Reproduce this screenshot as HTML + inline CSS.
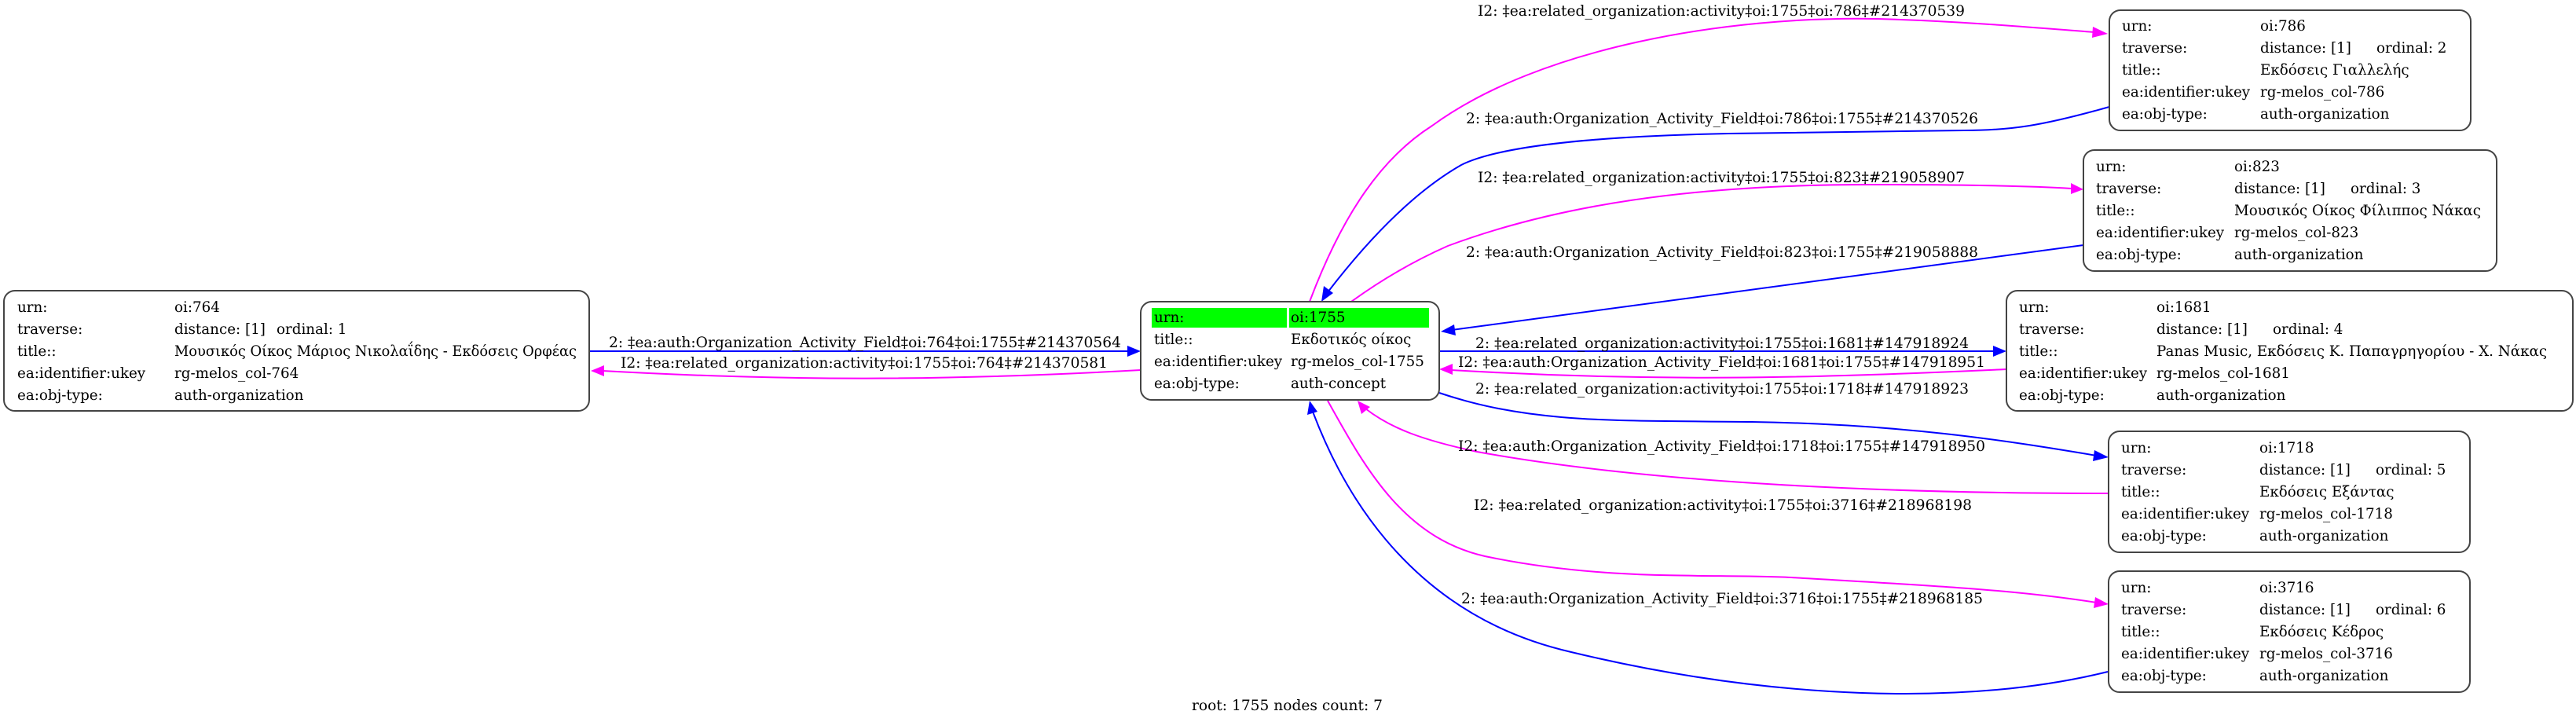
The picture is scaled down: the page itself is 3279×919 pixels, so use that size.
<!DOCTYPE html>
<html><head><meta charset="utf-8"><style>
html,body{margin:0;padding:0;background:#fff;}
svg{display:block;}
text{font-family:"DejaVu Serif","Liberation Serif",serif;font-size:18.3px;fill:#000;}
</style></head><body>
<svg width="3279" height="919" viewBox="0 0 3279 919" xmlns="http://www.w3.org/2000/svg">
<rect width="3279" height="919" fill="#fff"/>

<g fill="none" stroke-width="2">
<path d="M1667,384 C1710,270 1760,200 1823,160 C1960,60 2200,20 2390,24 C2500,27 2600,36 2666,41" stroke="#ff00ff"/>
<path d="M2685,136 C2600,160 2560,166 2500,166 L2200,170 C2000,174 1900,190 1860,210 C1790,250 1730,320 1690,372" stroke="#0000ff"/>
<path d="M1720,384 C1760,355 1800,332 1843,313 C1980,262 2150,235 2380,235 C2500,235 2590,237 2637,240" stroke="#ff00ff"/>
<path d="M2652,312 L1848,420" stroke="#0000ff"/>
<path d="M751,447 L1437,447" stroke="#0000ff"/>
<path d="M1452,471 C1200,485 1000,485 767,472" stroke="#ff00ff"/>
<path d="M1832,447 L2539,447" stroke="#0000ff"/>
<path d="M2554,470 C2300,482 2100,486 1847,471" stroke="#ff00ff"/>
<path d="M1832,500 C1950,540 2060,535 2230,537 C2420,540 2550,560 2669,580" stroke="#0000ff"/>
<path d="M2683,628 C2400,628 2100,615 1880,575 C1810,560 1770,545 1738,520" stroke="#ff00ff"/>
<path d="M1690,510 C1740,600 1790,690 1900,710 C2050,740 2180,730 2280,735 C2450,745 2560,750 2669,767" stroke="#ff00ff"/>
<path d="M2683,855 C2500,900 2250,890 2000,830 C1780,780 1700,600 1671,524" stroke="#0000ff"/>
</g>
<g>
<polygon points="2683,43 2664,34 2663,48" fill="#ff00ff"/>
<polygon points="1682,384 1685,364 1697,373" fill="#0000ff"/>
<polygon points="2652,241 2636,233 2636,247" fill="#ff00ff"/>
<polygon points="1834,422 1851,413 1853,427" fill="#0000ff"/>
<polygon points="1452,447 1435,440 1435,454" fill="#0000ff"/>
<polygon points="752,472 769,465 769,479" fill="#ff00ff"/>
<polygon points="2554,447 2537,440 2537,454" fill="#0000ff"/>
<polygon points="1832,470 1849,463 1849,477" fill="#ff00ff"/>
<polygon points="2684,582 2666,573 2664,587" fill="#0000ff"/>
<polygon points="1728,510 1733,527 1744,518" fill="#ff00ff"/>
<polygon points="2684,769 2667,760 2665,774" fill="#ff00ff"/>
<polygon points="1667,510 1664,528 1677,524" fill="#0000ff"/>
</g>

<text x="1881" y="20" textLength="620" lengthAdjust="spacingAndGlyphs">I2: ‡ea:related_organization:activity‡oi:1755‡oi:786‡#214370539</text>
<text x="1866" y="157" textLength="652" lengthAdjust="spacingAndGlyphs">2: ‡ea:auth:Organization_Activity_Field‡oi:786‡oi:1755‡#214370526</text>
<text x="1881" y="232" textLength="620" lengthAdjust="spacingAndGlyphs">I2: ‡ea:related_organization:activity‡oi:1755‡oi:823‡#219058907</text>
<text x="1866" y="327" textLength="652" lengthAdjust="spacingAndGlyphs">2: ‡ea:auth:Organization_Activity_Field‡oi:823‡oi:1755‡#219058888</text>
<text x="775" y="442" textLength="652" lengthAdjust="spacingAndGlyphs">2: ‡ea:auth:Organization_Activity_Field‡oi:764‡oi:1755‡#214370564</text>
<text x="790" y="468" textLength="620" lengthAdjust="spacingAndGlyphs">I2: ‡ea:related_organization:activity‡oi:1755‡oi:764‡#214370581</text>
<text x="1878" y="443" textLength="628" lengthAdjust="spacingAndGlyphs">2: ‡ea:related_organization:activity‡oi:1755‡oi:1681‡#147918924</text>
<text x="1856" y="467" textLength="671" lengthAdjust="spacingAndGlyphs">I2: ‡ea:auth:Organization_Activity_Field‡oi:1681‡oi:1755‡#147918951</text>
<text x="1878" y="501" textLength="628" lengthAdjust="spacingAndGlyphs">2: ‡ea:related_organization:activity‡oi:1755‡oi:1718‡#147918923</text>
<text x="1856" y="574" textLength="671" lengthAdjust="spacingAndGlyphs">I2: ‡ea:auth:Organization_Activity_Field‡oi:1718‡oi:1755‡#147918950</text>
<text x="1876" y="649" textLength="634" lengthAdjust="spacingAndGlyphs">I2: ‡ea:related_organization:activity‡oi:1755‡oi:3716‡#218968198</text>
<text x="1860" y="768" textLength="664" lengthAdjust="spacingAndGlyphs">2: ‡ea:auth:Organization_Activity_Field‡oi:3716‡oi:1755‡#218968185</text>

<rect x="1452" y="384" width="380" height="125" rx="14" fill="#fff" stroke="#444" stroke-width="2"/>
<rect x="1466" y="392" width="172" height="25" fill="#00ff00"/>
<rect x="1641" y="392" width="178" height="25" fill="#00ff00"/>
<text x="1469" y="410">urn:</text><text x="1643" y="410">oi:1755</text>
<text x="1469" y="438">title::</text><text x="1643" y="438">Εκδοτικός οίκος</text>
<text x="1469" y="466">ea:identifier:ukey</text><text x="1643" y="466">rg-melos_col-1755</text>
<text x="1469" y="494">ea:obj-type:</text><text x="1643" y="494">auth-concept</text>

<rect x="5" y="370" width="745" height="153" rx="14" fill="#fff" stroke="#444" stroke-width="2"/>
<text x="22" y="397">urn:</text><text x="222" y="397">oi:764</text>
<text x="22" y="425">traverse:</text><text x="222" y="425">distance: [1]</text><text x="352" y="425">ordinal: 1</text>
<text x="22" y="453">title::</text><text x="222" y="453" textLength="512" lengthAdjust="spacingAndGlyphs">Μουσικός Οίκος Μάριος Νικολαΐδης -  Εκδόσεις Ορφέας</text>
<text x="22" y="481">ea:identifier:ukey</text><text x="222" y="481">rg-melos_col-764</text>
<text x="22" y="509">ea:obj-type:</text><text x="222" y="509">auth-organization</text>

<rect x="2685" y="13" width="460" height="153" rx="14" fill="#fff" stroke="#444" stroke-width="2"/>
<text x="2701" y="39">urn:</text><text x="2877" y="39">oi:786</text>
<text x="2701" y="67">traverse:</text><text x="2877" y="67">distance: [1]</text><text x="3025" y="67">ordinal: 2</text>
<text x="2701" y="95">title::</text><text x="2877" y="95">Εκδόσεις Γιαλλελής</text>
<text x="2701" y="123">ea:identifier:ukey</text><text x="2877" y="123">rg-melos_col-786</text>
<text x="2701" y="151">ea:obj-type:</text><text x="2877" y="151">auth-organization</text>

<rect x="2652" y="191" width="526" height="154" rx="14" fill="#fff" stroke="#444" stroke-width="2"/>
<text x="2668" y="218">urn:</text><text x="2844" y="218">oi:823</text>
<text x="2668" y="246">traverse:</text><text x="2844" y="246">distance: [1]</text><text x="2992" y="246">ordinal: 3</text>
<text x="2668" y="274">title::</text><text x="2844" y="274">Μουσικός Οίκος Φίλιππος Νάκας</text>
<text x="2668" y="302">ea:identifier:ukey</text><text x="2844" y="302">rg-melos_col-823</text>
<text x="2668" y="330">ea:obj-type:</text><text x="2844" y="330">auth-organization</text>

<rect x="2554" y="370" width="721" height="153" rx="14" fill="#fff" stroke="#444" stroke-width="2"/>
<text x="2570" y="397">urn:</text><text x="2745" y="397">oi:1681</text>
<text x="2570" y="425">traverse:</text><text x="2745" y="425">distance: [1]</text><text x="2893" y="425">ordinal: 4</text>
<text x="2570" y="453">title::</text><text x="2745" y="453">Panas Music,  Εκδόσεις Κ. Παπαγρηγορίου - Χ. Νάκας</text>
<text x="2570" y="481">ea:identifier:ukey</text><text x="2745" y="481">rg-melos_col-1681</text>
<text x="2570" y="509">ea:obj-type:</text><text x="2745" y="509">auth-organization</text>

<rect x="2684" y="549" width="460" height="154" rx="14" fill="#fff" stroke="#444" stroke-width="2"/>
<text x="2700" y="576">urn:</text><text x="2876" y="576">oi:1718</text>
<text x="2700" y="604">traverse:</text><text x="2876" y="604">distance: [1]</text><text x="3024" y="604">ordinal: 5</text>
<text x="2700" y="632">title::</text><text x="2876" y="632">Εκδόσεις Εξάντας</text>
<text x="2700" y="660">ea:identifier:ukey</text><text x="2876" y="660">rg-melos_col-1718</text>
<text x="2700" y="688">ea:obj-type:</text><text x="2876" y="688">auth-organization</text>

<rect x="2684" y="727" width="460" height="154" rx="14" fill="#fff" stroke="#444" stroke-width="2"/>
<text x="2700" y="754">urn:</text><text x="2876" y="754">oi:3716</text>
<text x="2700" y="782">traverse:</text><text x="2876" y="782">distance: [1]</text><text x="3024" y="782">ordinal: 6</text>
<text x="2700" y="810">title::</text><text x="2876" y="810">Εκδόσεις Κέδρος</text>
<text x="2700" y="838">ea:identifier:ukey</text><text x="2876" y="838">rg-melos_col-3716</text>
<text x="2700" y="866">ea:obj-type:</text><text x="2876" y="866">auth-organization</text>

<text x="1517" y="904" textLength="243" lengthAdjust="spacingAndGlyphs">root: 1755 nodes count: 7</text>
</svg>
</body></html>
